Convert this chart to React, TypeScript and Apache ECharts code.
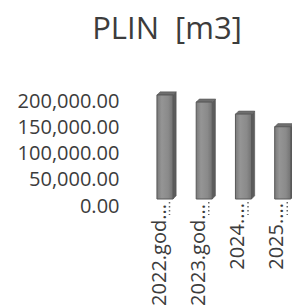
import React, { useEffect, useRef } from "react";
import * as echarts from "echarts";

const titleText = "PLIN  [m3]";
const categories = ["2022.god...", "2023.god...", "2024....", "2025...."];
const volumes = [190000, 177000, 155000, 132000];
const yTicks = [0, 50000, 100000, 150000, 200000];

const FONT = "'Open Sans', 'Noto Sans', sans-serif";
const TEXT = "#3c3c3c";

export default function App() {
  const ref = useRef<HTMLDivElement>(null);
  useEffect(() => {
    if (!ref.current) return;
    const chart = echarts.init(ref.current, undefined, { renderer: "svg" });
    const labelPad = [1, 1, 0, 0];
    const option: any = {
      animation: false,
      backgroundColor: "#ffffff",
      graphic: [
        {
          type: "text",
          x: 167,
          y: 11,
          style: {
            text: titleText,
            font: `31px ${FONT}`,
            fill: TEXT,
            textAlign: "center",
            textVerticalAlign: "top",
          },
        },
      ],
      grid: [
        { left: 138.5, width: 157, top: 100, height: 105, outerBoundsMode: "none", containLabel: false },
        { left: 138.5, width: 157, top: 89.5, height: 109.5, outerBoundsMode: "none", containLabel: false },
      ],
      xAxis: [
        { type: "category", gridIndex: 0, data: categories, show: false },
        {
          type: "category",
          gridIndex: 1,
          data: categories.map((c, i) => ({
            value: c,
            textStyle: { padding: [0, labelPad[i], 0, 0] },
          })),
          axisLine: { show: false },
          axisTick: { show: false },
          axisLabel: {
            rotate: 90,
            margin: 4,
            fontSize: 20,
            fontFamily: FONT,
            color: TEXT,
            interval: 0,
          },
        },
      ],
      yAxis: [
        {
          type: "value",
          gridIndex: 0,
          min: yTicks[0],
          max: yTicks[yTicks.length - 1],
          interval: yTicks[1] - yTicks[0],
          axisLine: { show: false },
          axisTick: { show: false },
          splitLine: { show: false },
          axisLabel: {
            margin: 19,
            fontSize: 20,
            fontFamily: FONT,
            color: TEXT,
            formatter: (v: number) =>
              v.toLocaleString("en-US", { minimumFractionDigits: 2, maximumFractionDigits: 2 }),
          },
        },
        {
          type: "value",
          gridIndex: 1,
          min: 0,
          max: 200000,
          show: false,
          splitLine: { show: false },
        },
      ],
      series: [
        {
          type: "custom",
          xAxisIndex: 1,
          yAxisIndex: 1,
          clip: false,
          data: categories.map((_, i) => [i, volumes[i]]),
          encode: { x: 0, y: 1 },
          renderItem: (params: any, api: any) => {
            const top = api.coord([api.value(0), api.value(1)]);
            const base = api.coord([api.value(0), 0]);
            const bw = api.size([1, 0])[0];
            const left = top[0] - 0.03 * bw;
            const w = 0.41 * bw;
            const d = 0.08 * bw;
            const y0 = top[1];
            const y1 = base[1];
            const tx = top[0] + 0.29 * bw;
            return {
              type: "group",
              children: [
                {
                  type: "line",
                  shape: { x1: tx, y1: y1 + 3, x2: tx, y2: y1 + 16 },
                  style: { stroke: "#666666", lineWidth: 1.5, lineDash: [1.5, 2.5] },
                },
                {
                  type: "polygon",
                  shape: {
                    points: [
                      [left + w, y0],
                      [left + w + d, y0 - d],
                      [left + w + d, y1 - d],
                      [left + w, y1],
                    ],
                  },
                  style: { fill: "#5c5c5c", stroke: "#4a4a4a", lineWidth: 0.5 },
                },
                {
                  type: "polygon",
                  shape: {
                    points: [
                      [left, y0],
                      [left + d, y0 - d],
                      [left + w + d, y0 - d],
                      [left + w, y0],
                    ],
                  },
                  style: { fill: "#6e6e6e", stroke: "#555555", lineWidth: 0.5 },
                },
                {
                  type: "rect",
                  shape: { x: left, y: y0, width: w, height: y1 - y0 },
                  style: {
                    fill: new echarts.graphic.LinearGradient(0, 0, 1, 0, [
                      { offset: 0, color: "#7a7a7a" },
                      { offset: 0.3, color: "#959595" },
                      { offset: 0.7, color: "#8a8a8a" },
                      { offset: 1, color: "#727272" },
                    ]),
                    stroke: "#585858",
                    lineWidth: 1,
                  },
                },
              ],
            };
          },
        },
      ],
    };
    chart.setOption(option);
    return () => chart.dispose();
  }, []);
  return (
    <div
      ref={ref}
      style={{ position: "fixed", left: 0, top: 0, width: 292, height: 308 }}
    />
  );
}
